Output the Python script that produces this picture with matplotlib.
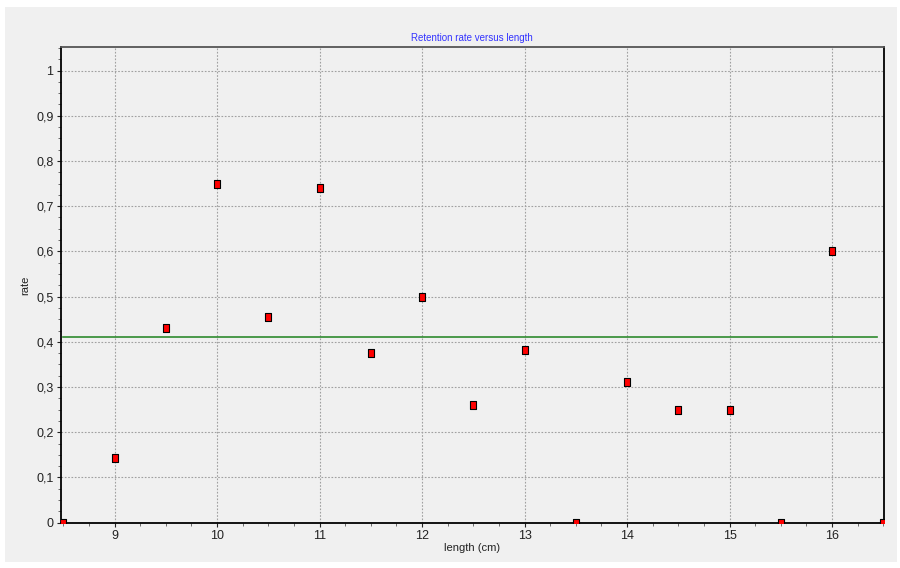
import matplotlib
matplotlib.use("Agg")
import matplotlib.pyplot as plt
from matplotlib.patches import Rectangle
from matplotlib.ticker import MultipleLocator, FuncFormatter

lengths = [8.5, 9, 9.5, 10, 10.5, 11, 11.5, 12, 12.5, 13, 13.5, 14, 14.5, 15, 15.5, 16, 16.5]
rates = [0.0, 0.143, 0.43, 0.75, 0.455, 0.74, 0.375, 0.5, 0.26, 0.382, 0.0, 0.311, 0.25, 0.25, 0.0, 0.6, 0.0]
mean_rate = 0.41
mean_span = [8.5, 16.44]

title = "Retention rate versus length"
xlabel = "length (cm)"
ylabel = "rate"

plt.rcParams['font.family'] = ['Liberation Sans Narrow', 'Liberation Sans', 'DejaVu Sans']

fig = plt.figure(figsize=(9, 5.68), dpi=100)
fig.patch.set_facecolor('white')
fig.patches.append(Rectangle((5/900, 6/568), 892/900, 555/568, transform=fig.transFigure,
                             facecolor='#f0f0f0', edgecolor='none', zorder=-10))

ax = fig.add_axes([60.5/900, 1-522.7/568, (884-60.5)/900, (522.7-47)/568])
ax.set_facecolor('#f0f0f0')

ax.plot(mean_span, [mean_rate, mean_rate], color='#2e8b2e', lw=1.2, zorder=2)

rect = [(-0.85, -1), (0.85, -1), (0.85, 1), (-0.85, 1), (-0.85, -1)]
ax.plot(lengths, rates, linestyle='none', marker=rect, markersize=5.2,
        markerfacecolor='#ff0000', markeredgecolor='black', markeredgewidth=0.8, zorder=3)

ax.set_xlim(8.473, 16.507)
ax.set_ylim(0, 1.052)
ax.xaxis.set_major_locator(MultipleLocator(1))
ax.xaxis.set_minor_locator(MultipleLocator(0.25))
ax.yaxis.set_major_locator(MultipleLocator(0.1))
ax.yaxis.set_minor_locator(MultipleLocator(0.025))

def yfmt(v, pos):
    s = ('%.1f' % v)
    if s.endswith('.0'):
        s = s[:-2]
    return s.replace('.', ',')

ax.yaxis.set_major_formatter(FuncFormatter(yfmt))
ax.xaxis.set_major_formatter(FuncFormatter(lambda v, p: '%d' % v))

ax.grid(True, which='major', color='#a0a0a0', linestyle=(0, (1.5, 1.5)), linewidth=0.8)
ax.set_axisbelow(True)

ax.tick_params(axis='both', which='major', direction='out', length=3, width=0.8,
               labelsize=9, colors='#222222', pad=2)
ax.tick_params(axis='both', which='minor', direction='out', length=2, width=0.6, colors='#555555')

for side in ['left', 'bottom', 'right']:
    ax.spines[side].set_color('black')
    ax.spines[side].set_linewidth(1.3)
ax.spines['top'].set_color('#555555')
ax.spines['top'].set_linewidth(1.3)

ax.set_title(title, color='#3333ff', fontsize=7, pad=4)
ax.set_xlabel(xlabel, fontsize=8, color='#222222', labelpad=1)
ax.set_ylabel(ylabel, fontsize=8, color='#222222', labelpad=4)

fig.savefig('out.png', dpi=100, facecolor=fig.get_facecolor())
